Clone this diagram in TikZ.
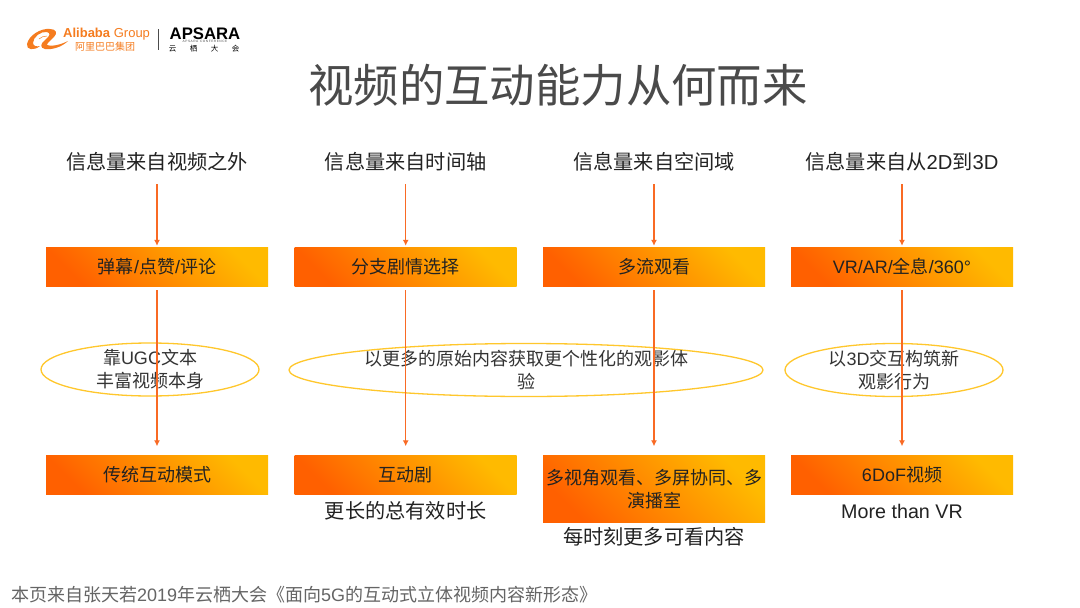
\documentclass[tikz,border=0pt]{standalone}
\usepackage{fontspec}
\setmainfont{Noto Sans CJK SC}
\newfontfamily\latf{Liberation Sans}
\newcommand\la[1]{{\latf #1}}
\usetikzlibrary{arrows.meta,shapes.geometric}
\definecolor{ink}{HTML}{222222}
\definecolor{titlegray}{HTML}{4A4A4A}
\definecolor{arrowor}{HTML}{F96A24}
\definecolor{ringy}{HTML}{FFC72C}
\definecolor{gradA}{HTML}{FF6000}
\definecolor{gradB}{HTML}{FFBA00}
\definecolor{aliorange}{HTML}{F57C1F}
\tikzset{
  headtext/.style={font=\fontsize{20.2}{24}\selectfont,text=ink,inner sep=0pt,anchor=center},
  notetext/.style={font=\fontsize{20.2}{24}\selectfont,text=ink,inner sep=0pt,anchor=center},
  gbox/.style={rectangle,minimum width=222pt,inner sep=0pt,left color=gradA,right color=gradB,shading angle=135,
    font=\fontsize{18}{23}\selectfont,text=ink,align=center},
  ring/.style={ellipse,draw=ringy,line width=1.3pt,inner sep=-4pt,font=\fontsize{18}{22}\selectfont,text=titlegray!70!black,align=center},
  flow/.style={draw=arrowor,line width=1.5pt,-{Latex[length=6pt,width=6pt]}},
}
\begin{document}
\begin{tikzpicture}[x=1pt,y=-1pt]
\path[use as bounding box,fill=white] (0,0) rectangle (1080,608);

% logos
\fill[aliorange] (27,44) .. controls (29,35) and (41,28) .. (50,29) .. controls (56,29) and (58,33) .. (54,37)
  .. controls (51,40) and (47,43) .. (47,45) .. controls (53,47) and (62,44) .. (68,41)
  .. controls (62,47) and (52,50) .. (45,49) .. controls (40,48) and (40,44) .. (45,40)
  .. controls (50,36) and (51,33) .. (47,32) .. controls (41,31) and (33,37) .. (33,43)
  .. controls (33,46) and (37,47) .. (40,46) .. controls (34,51) and (26,50) .. (27,44) -- cycle;
\draw[aliorange,line width=.5pt] (39,39) .. controls (41,37) and (44,36) .. (47,36);
\node[inner sep=0pt,anchor=west,text=aliorange] (alib) at (63,34.5) {\fontsize{13}{14}\selectfont\latf\textbf{Alibaba} Group};
\node[inner sep=0pt,anchor=west,text=aliorange] (alibcn) at (75,46.5) {\fontsize{10}{11}\selectfont 阿里巴巴集团};
\draw[black!70,line width=.7pt] (158,29) -- (158,50);
\node[inner sep=0pt,anchor=center,text=black] (aps) at (205,33.3) {\fontsize{16.7}{18}\selectfont\latf\textbf{APSARA}};
\node[inner sep=0pt,anchor=center,text=black!70] (apssub) at (205,41.3) {\fontsize{3.2}{4}\selectfont\latf A\,P\,S\,A\,R\,A\ \ C\,O\,N\,F\,E\,R\,E\,N\,C\,E};
\node[inner sep=0pt,anchor=center,text=black] (apscn) at (204,48.8) {\fontsize{7.5}{9}\selectfont 云\hspace{13.5pt}栖\hspace{13.5pt}大\hspace{13.5pt}会};

\node[inner sep=0pt,text=titlegray] (title) at (558,85) {\fontsize{45.4}{52}\selectfont 视频的互动能力从何而来};

% column heads
\node[headtext] (h1) at (157,162) {信息量来自视频之外};
\node[headtext] (h2) at (405.7,162) {信息量来自时间轴};
\node[headtext] (h3) at (654,162) {信息量来自空间域};
\node[headtext] (h4) at (902,162) {信息量来自从\la{2D}到\la{3D}};

% middle boxes
\node[gbox,minimum height=39pt] (m1) at (157,266.5) {弹幕\la{/}点赞\la{/}评论};
\node[gbox,minimum height=39pt] (m2) at (405.7,266.5) {分支剧情选择};
\node[gbox,minimum height=39pt] (m3) at (654,266.5) {多流观看};
\node[gbox,minimum height=39pt] (m4) at (902,266.5) {\la{VR/AR/}全息\la{/360°}};

% ellipses
\node[ring,minimum width=218pt,minimum height=53pt] (e1) at (150,369.5) {靠\la{UGC}文本\\[1pt]丰富视频本身};
\node[ring,minimum width=474pt,minimum height=53pt] (e2) at (526,370) {以更多的原始内容获取更个性化的观影体\\[1pt]验};
\node[ring,minimum width=218pt,minimum height=53pt] (e3) at (894,370) {以\la{3D}交互构筑新\\[1pt]观影行为};

% bottom boxes
\node[gbox,minimum height=39pt] (b1) at (157,475) {传统互动模式};
\node[gbox,minimum height=39pt] (b2) at (405.7,475) {互动剧};
\node[gbox,minimum height=67pt] (b3) at (654,489) {多视角观看、多屏协同、多\\演播室};
\node[gbox,minimum height=39pt] (b4) at (902,475) {\la{6DoF}视频};

% notes
\node[notetext] (n2) at (405.7,511) {更长的总有效时长};
\node[notetext] (n3) at (654,537) {每时刻更多可看内容};
\node[notetext] (n4) at (902,511) {\fontsize{19.7}{24}\selectfont\la{More than VR}};

% connectors
\foreach \i in {1,2,3,4}{
  \draw[flow,shorten >=1pt] (h\i.south |- 0,174) ++(0,10) -- (m\i.north);
  \draw[flow,shorten <=4pt,shorten >=9pt] (m\i.south) -- (b\i.north);
}

\node[inner sep=0pt,anchor=west,text=titlegray!85] (foot) at (11,595) {\fontsize{18}{22}\selectfont 本页来自张天若\la{2019}年云栖大会《面向\la{5G}的互动式立体视频内容新形态》};
\end{tikzpicture}
\end{document}
